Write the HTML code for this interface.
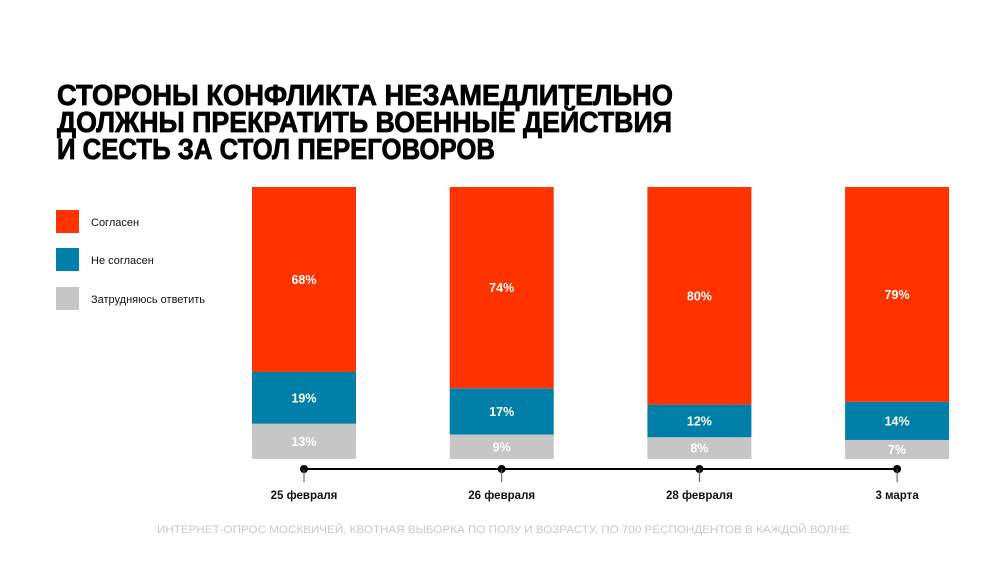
<!DOCTYPE html>
<html><head><meta charset="utf-8"><style>
html,body{margin:0;padding:0;background:#fff;}
svg{display:block;font-family:"Liberation Sans","DejaVu Sans",sans-serif;}
</style></head><body>
<svg width="1000" height="563" viewBox="0 0 1000 563">
<g font-weight="900" font-size="29" fill="#000" stroke="#000" stroke-width="0.8">
<text x="57" y="105" textLength="616" lengthAdjust="spacingAndGlyphs">СТОРОНЫ КОНФЛИКТА НЕЗАМЕДЛИТЕЛЬНО</text>
<text x="57" y="132" textLength="615" lengthAdjust="spacingAndGlyphs">ДОЛЖНЫ ПРЕКРАТИТЬ ВОЕННЫЕ ДЕЙСТВИЯ</text>
<text x="57" y="159" textLength="438" lengthAdjust="spacingAndGlyphs">И СЕСТЬ ЗА СТОЛ ПЕРЕГОВОРОВ</text>
</g>
<g font-size="11" fill="#111">
<rect x="56" y="210" width="23" height="23" fill="#ff3300"/>
<text x="91" y="226">Согласен</text>
<rect x="56" y="248" width="23" height="23" fill="#0080a8"/>
<text x="91" y="264">Не согласен</text>
<rect x="56" y="287" width="23" height="23" fill="#c6c6c6"/>
<text x="91" y="303">Затрудняюсь ответить</text>
</g>
<g id="bars"></g>
<line x1="303" y1="469" x2="897" y2="469" stroke="#000" stroke-width="2"/>
<g id="ticks"></g>
<text x="157" y="533" textLength="693" lengthAdjust="spacingAndGlyphs" font-size="11" fill="#c8c8c8">ИНТЕРНЕТ-ОПРОС МОСКВИЧЕЙ, КВОТНАЯ ВЫБОРКА ПО ПОЛУ И ВОЗРАСТУ, ПО 700 РЕСПОНДЕНТОВ В КАЖДОЙ ВОЛНЕ</text>
</svg>
<script>
const categories = ["25 февраля","26 февраля","28 февраля","3 марта"];
const agree = [68,74,80,79];
const disagree = [19,17,12,14];
const unsure = [13,9,8,7];
const NS="http://www.w3.org/2000/svg";
const top0=187, bottom0=459, barW=104;
function y(v){return bottom0-(bottom0-top0)*v/100;}
function xc(i){return 304+i*197.7;}
const bars=document.getElementById('bars'), ticks=document.getElementById('ticks');
function mk(tag,attrs,parent){const e=document.createElementNS(NS,tag);for(const k in attrs)e.setAttribute(k,attrs[k]);parent.appendChild(e);return e;}
const series=[[unsure,"#c6c6c6","unsure"],[disagree,"#0080a8","disagree"],[agree,"#ff3300","agree"]];
categories.forEach((c,i)=>{
  let cum=0;
  series.forEach(([arr,col,nm])=>{
    const v=arr[i];
    const y1=y(cum+v), y0=y(cum);
    const r=mk('rect',{x:xc(i)-barW/2,y:y1,width:barW,height:y0-y1,fill:col},bars);
    
    
    const t=mk('text',{x:xc(i),y:(y0+y1)/2+4.5,'text-anchor':'middle','font-size':'12.5','font-weight':'bold',fill:'#fff'},bars);
    
    
    t.textContent=v+'%';
    cum+=v;
  });
  const d=mk('circle',{cx:xc(i),cy:469,r:4,fill:'#000'},ticks);
  
  
  const l=mk('line',{x1:xc(i),y1:469,x2:xc(i),y2:482,stroke:'#555','stroke-width':1},ticks);
  
  
  const lb=mk('text',{x:xc(i),y:499,'text-anchor':'middle','font-size':'11.5','font-weight':'bold',fill:'#111'},ticks);
  
  
  lb.textContent=c;
});
</script>
</body></html>
